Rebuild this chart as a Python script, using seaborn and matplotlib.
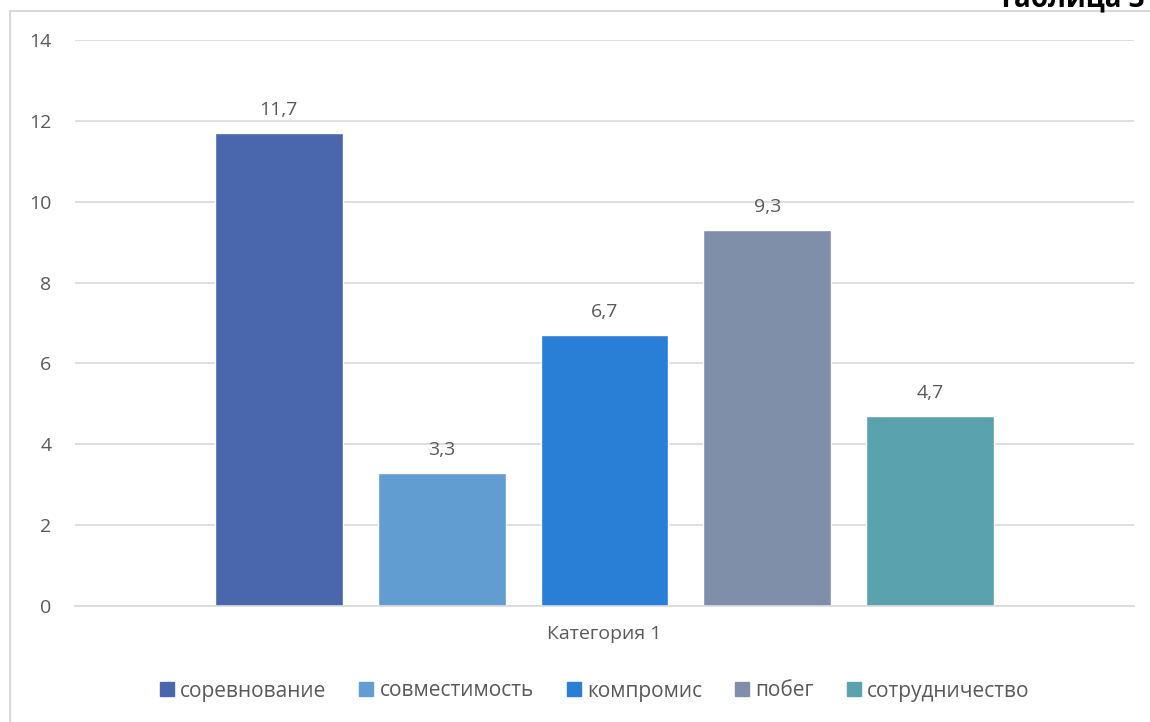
import matplotlib
matplotlib.use("Agg")
import matplotlib.pyplot as plt
import seaborn as sns
import pandas as pd
from matplotlib.patches import Rectangle
from matplotlib.lines import Line2D

categories = ["Категория 1"]
series = ["соревнование", "совместимость", "компромис", "побег", "сотрудничество"]
values = [11.7, 3.3, 6.7, 9.3, 4.7]
colors = ["#4A66AC", "#629DD1", "#297FD5", "#7F8FA9", "#5AA2AE"]
yticks = [0, 2, 4, 6, 8, 10, 12, 14]

sns.set_theme(style="white")
plt.rcParams["font.family"] = ["Open Sans", "DejaVu Sans"]

df = pd.DataFrame({"cat": categories * len(series), "series": series, "value": values})

W, H = 1150, 722
FS = 14
fig = plt.figure(figsize=(W / 100, H / 100), dpi=100)
ax = fig.add_axes([75 / W, 1 - 606 / H, (1134 - 75) / W, (606 - 40) / H])

sns.barplot(data=df, x="cat", y="value", hue="series", hue_order=series,
            palette=colors, width=0.769, gap=0.215, ax=ax, legend=False,
            saturation=1, errorbar=None)

ax.set_ylim(0, 14)
ax.set_xlim(-0.5, 0.5)
ax.set_yticks(yticks)
ax.yaxis.grid(True, color="#D9D9D9", linewidth=1.2)
ax.set_axisbelow(True)
for s in ["top", "right", "left"]:
    ax.spines[s].set_visible(False)
ax.spines["bottom"].set_color("#D9D9D9")
ax.spines["bottom"].set_linewidth(1.2)
ax.tick_params(axis="y", length=0, pad=17, labelsize=FS, labelcolor="#595959")
ax.tick_params(axis="x", length=0, pad=14, labelsize=FS, labelcolor="#595959")
ax.set_xlabel("")
ax.set_ylabel("")

for cont in ax.containers:
    ax.bar_label(cont, labels=[f"{v:.1f}".replace(".", ",") for v in cont.datavalues],
                 padding=10, fontsize=FS, color="#595959")

handles = [Line2D([0], [0], marker="s", linestyle="", markersize=10,
                  markerfacecolor=c, markeredgecolor=c) for c in colors]
fig.legend(handles, series, loc="center", bbox_to_anchor=(593 / W, 1 - 691 / H),
           ncol=5, frameon=False, fontsize=15, labelcolor="#595959",
           handletextpad=0.15, columnspacing=1.4, handlelength=1.0)

# chart frame
fig.add_artist(Rectangle((10 / W, -0.05), 1.1, 1 - 11 / H + 0.05,
                         transform=fig.transFigure, fill=False,
                         edgecolor="#D9D9D9", linewidth=1.5))

fig.text(998 / W, 1 - 7 / H, "Таблица 3", ha="left", va="baseline",
         fontsize=20, fontweight="bold", color="black")

fig.savefig("out.png", dpi=100, facecolor="white")
